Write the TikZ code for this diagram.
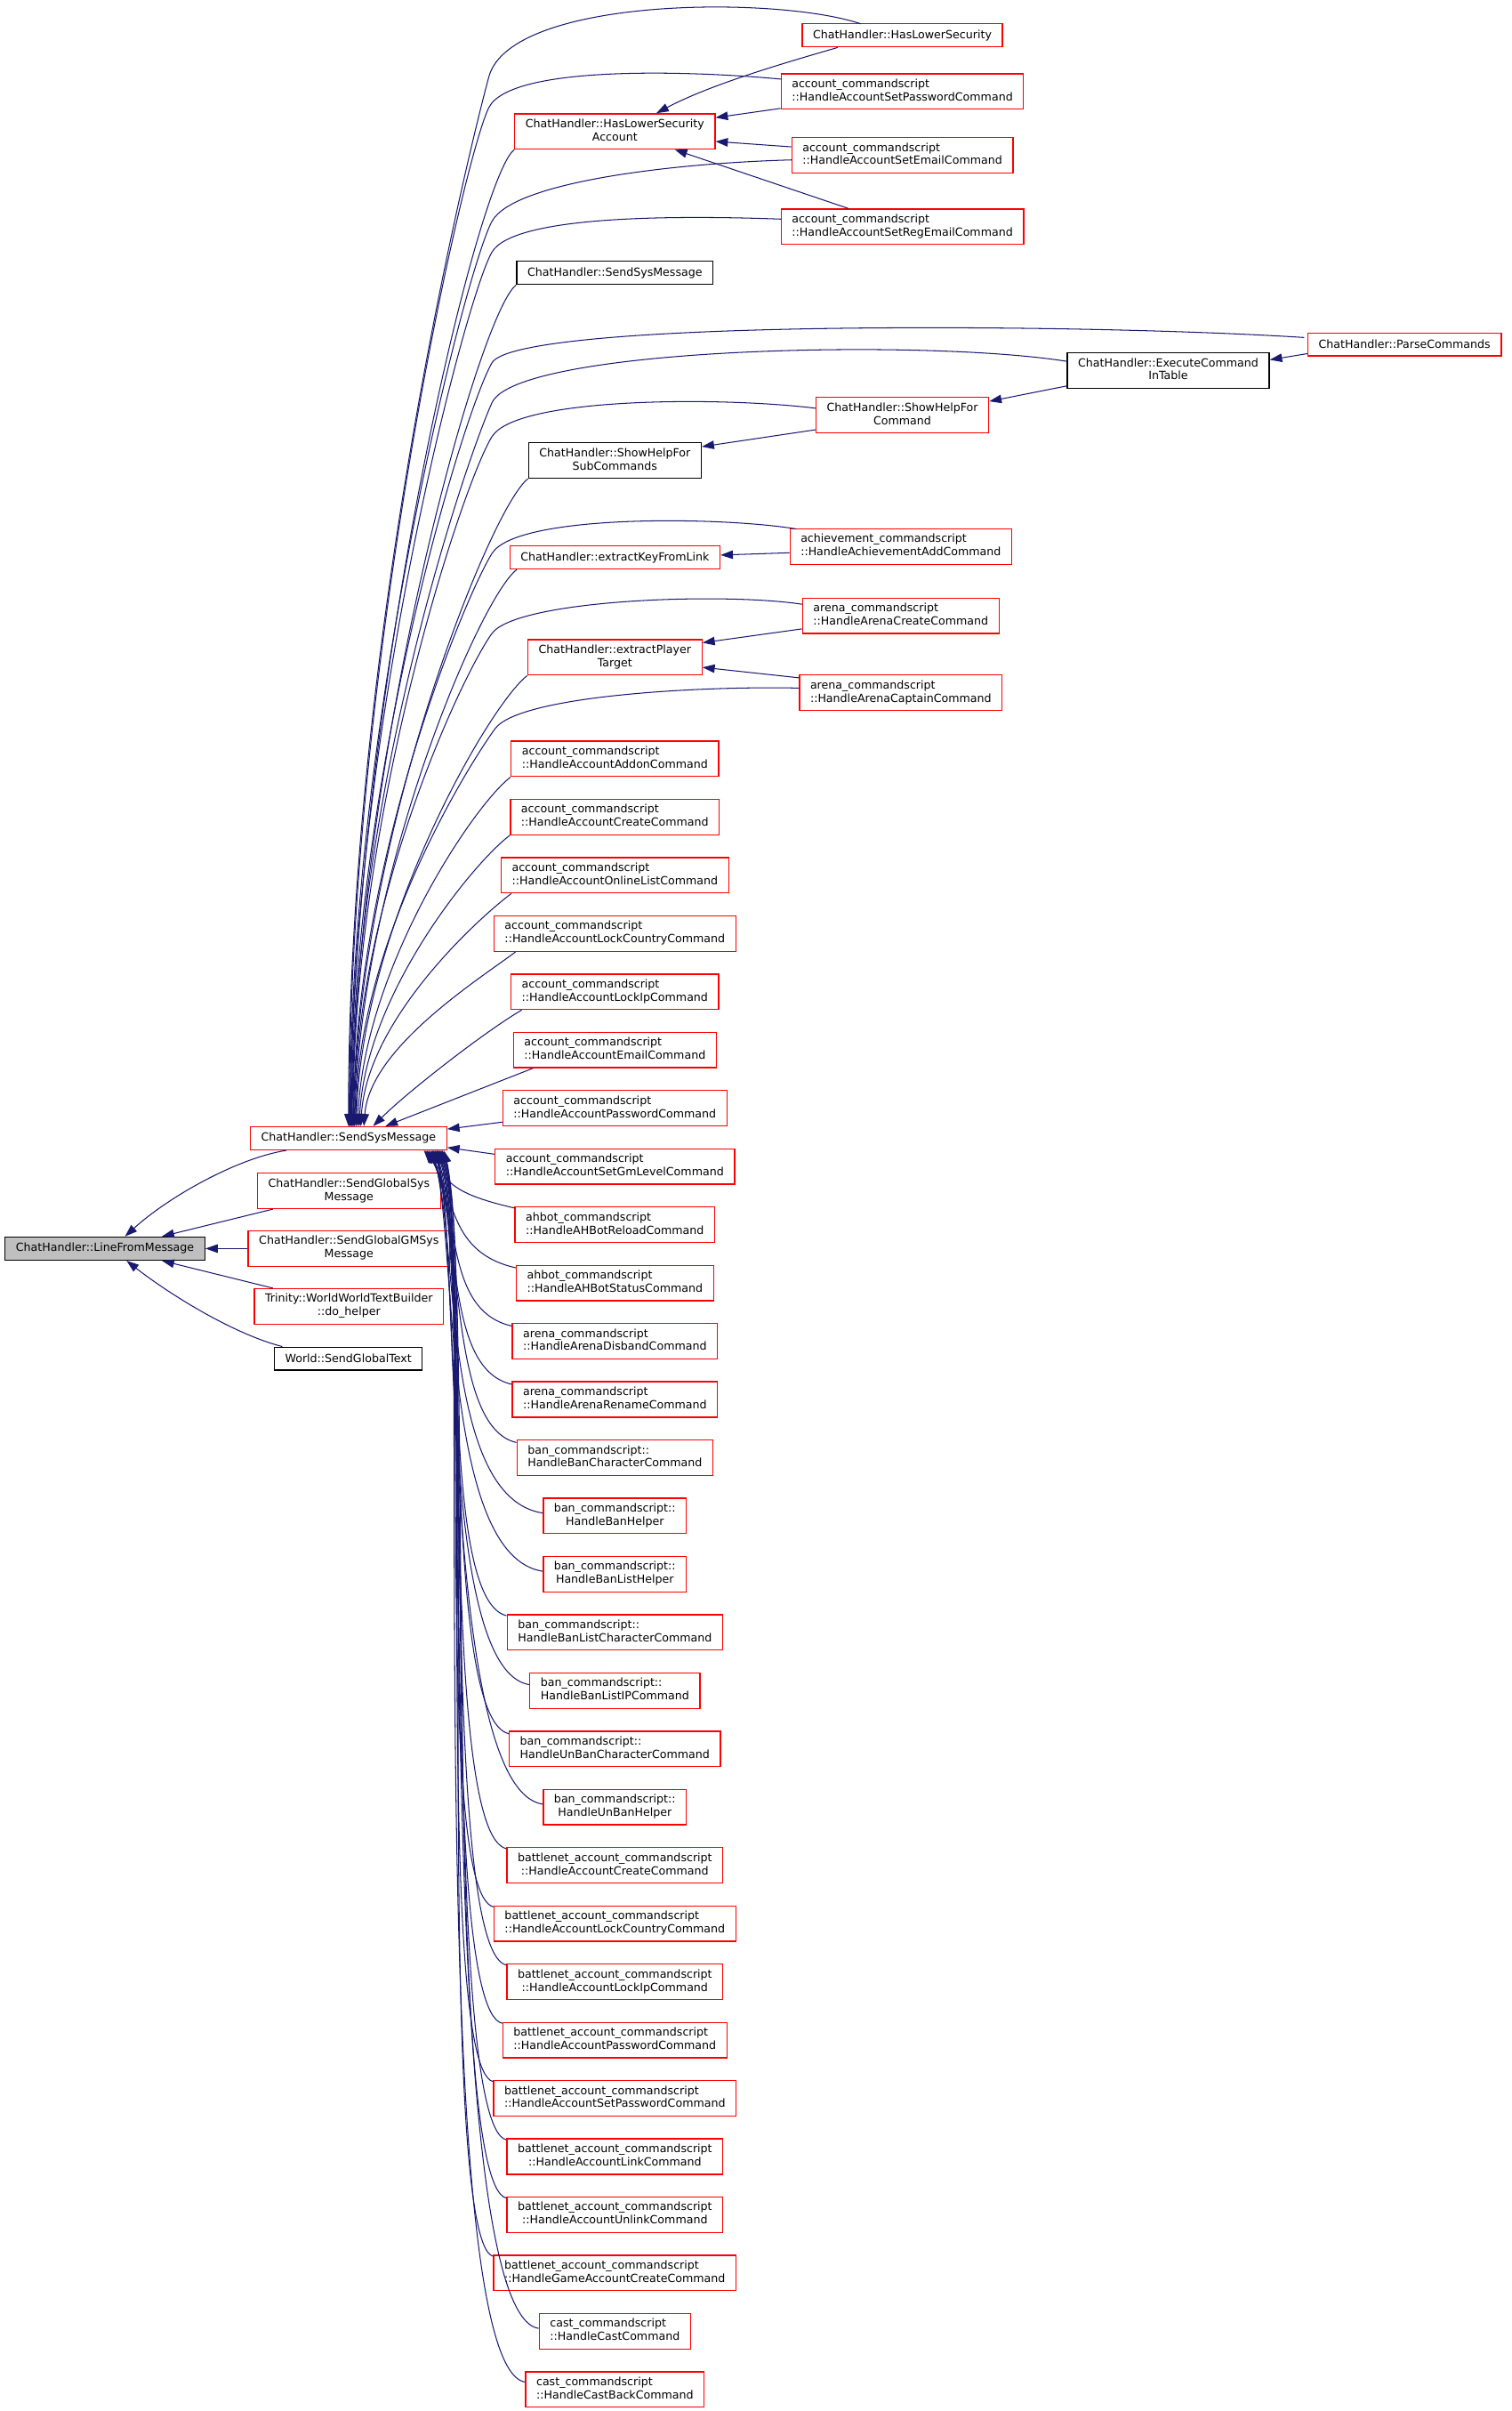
\documentclass[tikz,border=0pt]{standalone}
\usepackage{fontspec}
\setmainfont{DejaVu Sans}
\usepackage{tikz}
\usetikzlibrary{arrows.meta, calc}
\definecolor{cEdge}{RGB}{25,25,112}
\definecolor{cRoot}{RGB}{191,191,191}
\tikzset{
	fn/.style  ={rectangle, draw=red, line width=0.75pt, fill=white, inner xsep=7pt, inner ysep=2.9pt, minimum height=15pt},
	fnb/.style ={fn, draw=black},
	root/.style={fn, draw=black, fill=cRoot},
	% caller -> callee connector, tip at the callee
	call/.style={draw=cEdge, line width=0.6pt, -{Triangle[length=8pt,width=5.5pt]}},
}
\newcommand{\twoln}[2]{\begin{tabular}{@{}l@{}}#1\\\hfill#2\hfill\null\end{tabular}}

\begin{document}
\begin{tikzpicture}[x=1pt, y=-1pt, font=\fontsize{7.3}{8.6}\selectfont]
	\useasboundingbox (0,0) rectangle (983.6,1568);

	% root and its direct callers
	\node[root] (lfm)  at (68.3,812)   {ChatHandler::LineFromMessage};
	\node[fn]   (sss)  at (226.7,740.3) {ChatHandler::SendSysMessage};
	\node[fn]   (sgs)  at (227,774.5)   {\twoln{ChatHandler::SendGlobalSys}{Message}};
	\node[fn]   (sggm) at (227,812)     {\twoln{ChatHandler::SendGlobalGMSys}{Message}};
	\node[fn]   (tw)   at (227,849.6)   {\twoln{Trinity::WorldWorldTextBuilder}{::do\_helper}};
	\node[fnb]  (wsg)  at (226.6,883.6) {World::SendGlobalText};

	% upper callers
	\node[fn]  (hls)        at (587,23)    {ChatHandler::HasLowerSecurity};
	\node[fn]  (acSetPwd)   at (587,59.5)  {\twoln{account\_commandscript}{::HandleAccountSetPasswordCommand}};
	\node[fn]  (hlsa)       at (400,85.5)  {\twoln{ChatHandler::HasLowerSecurity}{Account}};
	\node[fn]  (acSetEmail) at (587,101)   {\twoln{account\_commandscript}{::HandleAccountSetEmailCommand}};
	\node[fn]  (acSetReg)   at (587,147.5) {\twoln{account\_commandscript}{::HandleAccountSetRegEmailCommand}};
	\node[fnb] (ssm2)       at (400,177.5) {ChatHandler::SendSysMessage};
	\node[fn]  (parse)      at (913.7,224) {ChatHandler::ParseCommands};
	\node[fnb] (exec)       at (760,241)   {\twoln{ChatHandler::ExecuteCommand}{InTable}};
	\node[fn]  (shfc)       at (587,270)   {\twoln{ChatHandler::ShowHelpFor}{Command}};
	\node[fnb] (shfs)       at (400,299.5) {\twoln{ChatHandler::ShowHelpFor}{SubCommands}};
	\node[fn]  (achAdd)     at (586,355.5) {\twoln{achievement\_commandscript}{::HandleAchievementAddCommand}};
	\node[fn]  (ekfl)       at (400,362.5) {ChatHandler::extractKeyFromLink};
	\node[fn]  (arCreate)   at (586,400.5) {\twoln{arena\_commandscript}{::HandleArenaCreateCommand}};
	\node[fn]  (ept)        at (400,427.5) {\twoln{ChatHandler::extractPlayer}{Target}};
	\node[fn]  (arCaptain)  at (586,450.5) {\twoln{arena\_commandscript}{::HandleArenaCaptainCommand}};

	% command handlers column
	\foreach \i/\nm/\la/\lb in {
		0/acAddon/account\_commandscript/::HandleAccountAddonCommand,
		1/acCreate/account\_commandscript/::HandleAccountCreateCommand,
		2/acOnline/account\_commandscript/::HandleAccountOnlineListCommand,
		3/acLockCountry/account\_commandscript/::HandleAccountLockCountryCommand,
		4/acLockIp/account\_commandscript/::HandleAccountLockIpCommand,
		5/acEmail/account\_commandscript/::HandleAccountEmailCommand,
		6/acPassword/account\_commandscript/::HandleAccountPasswordCommand,
		7/acGmLevel/account\_commandscript/::HandleAccountSetGmLevelCommand,
		8/ahReload/ahbot\_commandscript/::HandleAHBotReloadCommand,
		9/ahStatus/ahbot\_commandscript/::HandleAHBotStatusCommand,
		10/arDisband/arena\_commandscript/::HandleArenaDisbandCommand,
		11/arRename/arena\_commandscript/::HandleArenaRenameCommand,
		12/banChar/ban\_commandscript::/HandleBanCharacterCommand,
		13/banHelper/ban\_commandscript::/HandleBanHelper,
		14/banListHelper/ban\_commandscript::/HandleBanListHelper,
		15/banListChar/ban\_commandscript::/HandleBanListCharacterCommand,
		16/banListIP/ban\_commandscript::/HandleBanListIPCommand,
		17/unbanChar/ban\_commandscript::/HandleUnBanCharacterCommand,
		18/unbanHelper/ban\_commandscript::/HandleUnBanHelper,
		19/bnCreate/battlenet\_account\_commandscript/::HandleAccountCreateCommand,
		20/bnLockCountry/battlenet\_account\_commandscript/::HandleAccountLockCountryCommand,
		21/bnLockIp/battlenet\_account\_commandscript/::HandleAccountLockIpCommand,
		22/bnPassword/battlenet\_account\_commandscript/::HandleAccountPasswordCommand,
		23/bnSetPassword/battlenet\_account\_commandscript/::HandleAccountSetPasswordCommand,
		24/bnLink/battlenet\_account\_commandscript/::HandleAccountLinkCommand,
		25/bnUnlink/battlenet\_account\_commandscript/::HandleAccountUnlinkCommand,
		26/bnGameCreate/battlenet\_account\_commandscript/::HandleGameAccountCreateCommand,
		27/castCast/cast\_commandscript/::HandleCastCommand,
		28/castBack/cast\_commandscript/::HandleCastBackCommand}
		\node[fn] (\nm) at (400,{493.5+37.875*\i}) {\twoln{\la}{\lb}};

	% into LineFromMessage
	\draw[call] ([xshift=-40.5pt]sss.south) .. controls (155,753) and (110,778) .. ([xshift=13pt]lfm.north);
	\draw[call] ([xshift=-49.5pt]sgs.south) -- ([xshift=37pt]lfm.north);
	\draw[call] (sggm.west) -- (lfm.east);
	\draw[call] ([xshift=-49.5pt]tw.north) -- ([xshift=37pt]lfm.south);
	\draw[call] ([xshift=-43pt]wsg.north) .. controls (150,867) and (108,840) .. ([xshift=14pt]lfm.south);

	% short links between upper callers
	\draw[call] ([xshift=-42pt]hls.south) .. controls (510,41) and (462,55) .. ([xshift=27pt]hlsa.north);
	\draw[call] ([yshift=-11pt]acSetPwd.west) -- ([yshift=9pt]hlsa.east);
	\draw[call] ([yshift=5.5pt]acSetEmail.west) -- ([yshift=-6.5pt]hlsa.east);
	\draw[call] ([xshift=-35pt]acSetReg.north) -- ([xshift=39pt]hlsa.south);
	\draw[call] ([yshift=-6pt]parse.west) -- ([yshift=7pt]exec.east);
	\draw[call] ([yshift=-10pt]exec.west) -- ([yshift=9pt]shfc.east);
	\draw[call] ([yshift=-9.5pt]shfc.west) -- ([yshift=9pt]shfs.east);
	\draw[call] ([yshift=-4pt]achAdd.west) -- ([yshift=1.5pt]ekfl.east);
	\draw[call] ([yshift=-8.5pt]arCreate.west) -- ([yshift=9.5pt]ept.east);
	\draw[call] ([yshift=9.7pt]arCaptain.west) -- ([yshift=-6.5pt]ept.east);

	% long arcs from the right-hand callers down to SendSysMessage
	\foreach \sn/\sx/\sy/\ca/\cb/\bp/\tp in {
		hls/-27/7.5/{505,-3}/{332,-2}/{318,50}/0,
		acSetPwd/-78.5/8/{450,46}/{332,42}/{318,70}/0.5,
		acSetEmail/-72/-3/{440,106}/{334,118}/{320,144}/1,
		acSetReg/-79/5/{440,140}/{334,140}/{320,164}/1.5,
		parse/-65.3/4.5/{700,210}/{336,208}/{320,236}/2,
		exec/-66/6/{600,220}/{336,226}/{320,262}/2.5,
		shfc/-56.4/4.5/{470,258}/{336,258}/{320,284}/3,
		achAdd/-68/11.5/{470,336}/{336,334}/{320,360}/3.5,
		arCreate/-64.1/7.5/{470,385}/{336,390}/{320,412}/4,
		arCaptain/-66/3/{460,446}/{338,452}/{322,474}/5}{
		\coordinate (s) at ([xshift=\sx pt, yshift=\sy pt]\sn.center);
		\coordinate (c) at (\cb);
		\coordinate (b) at (\bp);
		\coordinate (t) at ([xshift=\tp pt]sss.north);
		\draw[call] (s) .. controls (\ca) and (c) .. (b) .. controls ($(b)!-1.2!(c)$) and ($(t)!0.45!(t|-b)$) .. (t);
	}

	% left column callers above SendSysMessage
	\foreach \sn/\sx/\tp in {hlsa/0/1, ssm2/0/2, shfs/0/3, ekfl/5/4, ept/0/5, acAddon/0/6, acCreate/0/7, acOnline/7/8, acLockCountry/14.5/10}{
		\coordinate (s) at ([xshift=\sx pt]\sn.south west);
		\coordinate (t) at ([xshift=\tp pt]sss.north);
		\draw[call] (s) .. controls +(-24,18) and ($(t)!0.45!(t|-s)+(4,0)$) .. (t);
	}
	\draw[call] ([xshift=7.3pt]acLockIp.south west) .. controls +(-24,14) and +(22,-22) .. ([xshift=16pt]sss.north);
	\draw[call] ([xshift=13pt]acEmail.south west) -- ([xshift=24pt]sss.north);
	\draw[call] ([yshift=-9pt]acPassword.west) -- ([yshift=6pt]sss.east);
	\draw[call] ([yshift=8pt]acGmLevel.west) -- ([yshift=-6pt]sss.east);

	% callers below SendSysMessage
	\foreach \sn/\dy/\cx/\tp/\bo/\cy in {
		ahReload/1/44/49/16/19, ahStatus/2/44/50/20/30, arDisband/2/44/51/22/40, arRename/2/44/52/22/50,
		banChar/2/44/53/22/55, banHelper/10/66/54/18/60, banListHelper/10/66/54.5/16/60, banListChar/1/44/55/22/60,
		banListIP/8/60/55.5/18/60, unbanChar/2/44/56/22/60, unbanHelper/10/66/56.5/16/60, bnCreate/1/44/57/22/60,
		bnLockCountry/1/40/57.5/23/60, bnLockIp/1/44/58/22/60, bnPassword/1/44/58.5/23/60, bnSetPassword/1/40/59/23/60,
		bnLink/1/44/59.5/22/60, bnUnlink/1/44/60/23/60, bnGameCreate/1/40/60.5/23/60, castCast/10/70/61/18/60, castBack/7/66/62/16/60}{
		\coordinate (s) at ([yshift=-\dy pt]\sn.north west);
		\coordinate (t) at ([xshift=\tp pt]sss.south);
		\draw[call] (s) .. controls +(-\cx,-10) and +(\bo,\cy) .. (t);
	}
\end{tikzpicture}
\end{document}
